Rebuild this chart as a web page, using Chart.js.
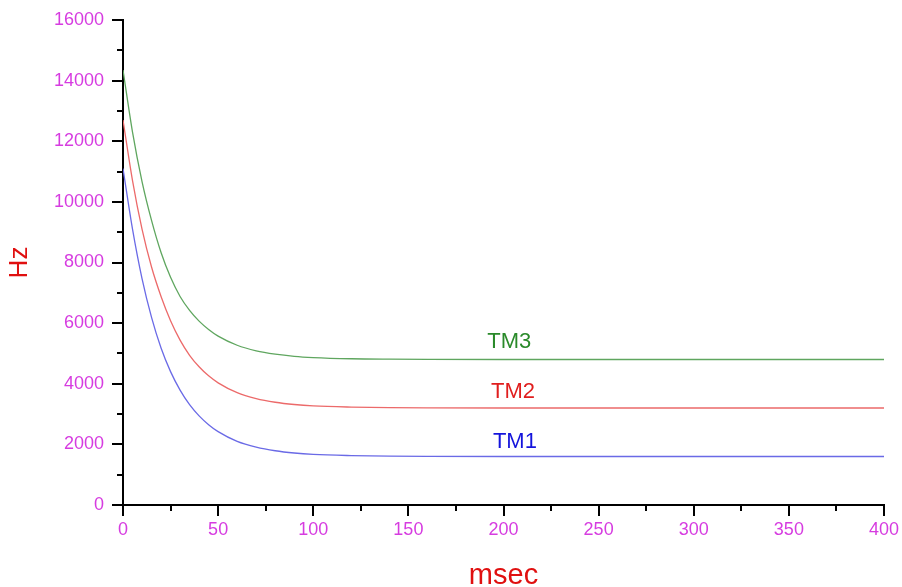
<!DOCTYPE html>
<html>
<head>
<meta charset="utf-8">
<script src="https://cdn.jsdelivr.net/npm/chart.js@4/dist/chart.umd.min.js"></script>
<style>
	html, body { margin: 0; padding: 0; background: #fff; }
	#wrap { width: 902px; height: 587px; }
</style>
</head>
<body>
<div id="wrap"><canvas id="canvas01" width="902" height="587"></canvas></div>
<script>
//values (x in msec, y in Hz)
var times = [0, 5, 10, 15, 20, 25, 30, 35, 40, 45, 50, 60, 70, 80, 90, 100, 120, 140, 160, 200, 250, 300, 350, 400];
var tm1 = [11100, 9100, 7470, 6190, 5180, 4400, 3790, 3310, 2940, 2650, 2420, 2100, 1910, 1790, 1715, 1670, 1630, 1610, 1603, 1600, 1600, 1600, 1600, 1600];
var tm2 = [12700, 10700, 9100, 7850, 6880, 6080, 5440, 4940, 4560, 4260, 4030, 3705, 3510, 3390, 3315, 3270, 3230, 3210, 3203, 3200, 3200, 3200, 3200, 3200];
var tm3 = [14350, 12300, 10670, 9390, 8330, 7510, 6880, 6420, 6065, 5790, 5570, 5270, 5085, 4975, 4905, 4865, 4825, 4810, 4803, 4800, 4800, 4800, 4800, 4800];

var seriesNames = ['TM1', 'TM2', 'TM3'];
var lineColors = ['#6a6ae6', '#ec6a6a', '#5fa65f'];
var textColors = ['#1414dc', '#e01e1e', '#2a8a2a'];
//label anchor for each series name (msec, Hz)
var labelX = [206, 205, 203];
var labelY = [2080, 3720, 5380];

var xTicks = [0, 50, 100, 150, 200, 250, 300, 350, 400];
var xMinor = [25, 75, 125, 175, 225, 275, 325, 375];
var yTicks = [0, 2000, 4000, 6000, 8000, 10000, 12000, 14000, 16000];
var yMinor = [1000, 3000, 5000, 7000, 9000, 11000, 13000, 15000];

var tickFont = { family: 'Liberation Sans, Arial, sans-serif', size: 18 };
var magenta = '#d63ce0';

function toPoints(ys) {
	var pts = [];
	for (var i = 0; i < times.length; i++) {
		pts.push({ x: times[i], y: ys[i] });
	}
	return pts;
}

function fixedTicks(list) {
	return function(scale) {
		scale.ticks = list.map(function(v) { return { value: v }; });
	};
}

//plain numbers, no thousands separator
function plainLabel(value) {
	return String(value);
}

//outward tick marks (major long, minor short) + series names
var decorPlugin = {
	id: 'decor',
	afterDraw: function(chart) {
		var ctx = chart.ctx;
		var xs = chart.scales.x, ys = chart.scales.y;
		var ax = xs.left, ay = ys.bottom;
		ctx.save();
		ctx.strokeStyle = '#000';
		ctx.lineWidth = 2;
		ctx.beginPath();
		var i, p;
		for (i = 0; i < yTicks.length; i++) {
			p = Math.round(ys.getPixelForValue(yTicks[i]));
			ctx.moveTo(ax - 11, p); ctx.lineTo(ax, p);
		}
		for (i = 0; i < yMinor.length; i++) {
			p = Math.round(ys.getPixelForValue(yMinor[i]));
			ctx.moveTo(ax - 6, p); ctx.lineTo(ax, p);
		}
		for (i = 0; i < xTicks.length; i++) {
			p = Math.round(xs.getPixelForValue(xTicks[i]));
			ctx.moveTo(p, ay); ctx.lineTo(p, ay + 11);
		}
		for (i = 0; i < xMinor.length; i++) {
			p = Math.round(xs.getPixelForValue(xMinor[i]));
			ctx.moveTo(p, ay); ctx.lineTo(p, ay + 6);
		}
		ctx.stroke();

		ctx.font = '22px Liberation Sans, Arial, sans-serif';
		ctx.textAlign = 'center';
		ctx.textBaseline = 'middle';
		for (i = 0; i < seriesNames.length; i++) {
			ctx.fillStyle = textColors[i];
			ctx.fillText(seriesNames[i], xs.getPixelForValue(labelX[i]), ys.getPixelForValue(labelY[i]));
		}
		ctx.restore();
	}
};

function mainFunc() {
	var datasets = [tm1, tm2, tm3].map(function(ys, i) {
		return {
			label: seriesNames[i],
			data: toPoints(ys),
			borderColor: lineColors[i],
			borderWidth: 1.3,
			pointRadius: 0,
			fill: false,
			cubicInterpolationMode: 'monotone'
		};
	});

	new Chart(document.getElementById('canvas01'), {
		type: 'line',
		data: { datasets: datasets },
		options: {
			responsive: false,
			animation: false,
			layout: { padding: { top: 20, right: 18, left: 0, bottom: 0 } },
			plugins: {
				legend: { display: false },
				tooltip: { enabled: false }
			},
			scales: {
				x: {
					type: 'linear',
					min: 0,
					max: 400,
					afterBuildTicks: fixedTicks(xTicks),
					afterFit: function(scale) {
						//fixed band below the plot, no overflow padding for end labels
						scale.height = 82;
						scale.paddingLeft = 0;
						scale.paddingRight = 0;
					},
					grid: { display: false, drawTicks: false },
					border: { display: true, color: '#000', width: 2 },
					ticks: { color: magenta, font: tickFont, padding: 14, maxRotation: 0, callback: plainLabel },
					title: {
						display: true,
						text: 'msec',
						color: '#e01010',
						font: { family: 'Liberation Sans, Arial, sans-serif', size: 29 },
						padding: { top: 0, bottom: -6 }
					}
				},
				y: {
					type: 'linear',
					min: 0,
					max: 16000,
					afterBuildTicks: fixedTicks(yTicks),
					afterFit: function(scale) {
						scale.width = 123;
						scale.paddingTop = 0;
						scale.paddingBottom = 0;
					},
					grid: { display: false, drawTicks: false },
					border: { display: true, color: '#000', width: 2 },
					ticks: { color: magenta, font: tickFont, padding: 19, callback: plainLabel },
					title: {
						display: true,
						text: 'Hz',
						color: '#e01010',
						font: { family: 'Liberation Sans, Arial, sans-serif', size: 26 },
						padding: { top: 4, bottom: 0 }
					}
				}
			}
		},
		plugins: [decorPlugin]
	});
}

window.onload = mainFunc;
</script>
</body>
</html>
